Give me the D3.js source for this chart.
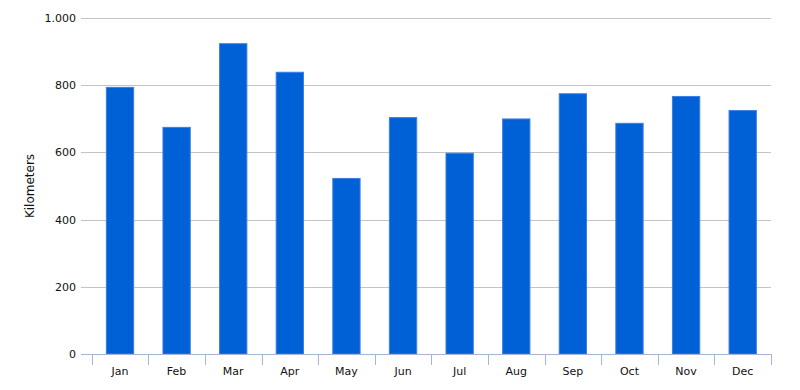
<!DOCTYPE html>
<html>
<head>
<meta charset="utf-8">
<script src="https://cdn.jsdelivr.net/npm/d3@7"></script>
<style>
  body { margin: 0; background: #fff; }
  text { font-family: "DejaVu Sans", Verdana, sans-serif; fill: #111; }
</style>
</head>
<body>
<svg id="chart" width="800" height="390"></svg>
<script>
// distancia mensal (km)
const months = ['Jan', 'Feb', 'Mar', 'Apr', 'May', 'Jun', 'Jul', 'Aug', 'Sep', 'Oct', 'Nov', 'Dec'];
const km = [795, 676, 925, 840, 524, 705, 599, 701, 776, 688, 768, 726];
const yTicks = [0, 200, 400, 600, 800, 1000];

const svg = d3.select('#chart');
const plotL = 81, plotR = 771, plotT = 18, plotB = 354;

const x = d3.scaleBand().domain(months).range([91.7, plotR]).paddingInner(0.5).paddingOuter(0.25);
const y = d3.scaleLinear().domain([0, 1000]).range([plotB, plotT]);

// grade horizontal
svg.append('g').selectAll('line').data(yTicks).join('line')
  .attr('x1', plotL).attr('x2', plotR)
  .attr('y1', (d) => Math.round(y(d)) + 0.5).attr('y2', (d) => Math.round(y(d)) + 0.5)
  .attr('stroke', '#c4c4c4').attr('stroke-width', 1);

svg.append('g').selectAll('text').data(yTicks).join('text')
  .attr('x', 76).attr('y', (d) => y(d) + 4)
  .attr('text-anchor', 'end').attr('font-size', 11)
  .text((d) => d3.format(',')(d).replace(/,/g, '.'));

// barras
svg.append('g').selectAll('rect').data(months).join('rect')
  .attr('x', (d) => x(d) + 0.5)
  .attr('y', (d, i) => y(km[i]) + 0.5)
  .attr('width', x.bandwidth() - 1)
  .attr('height', (d, i) => plotB - y(km[i]) - 0.5)
  .attr('fill', '#0060d6')
  .attr('stroke', '#3b7fe2').attr('stroke-width', 1);

// eixo x: linha + ticks nas divisas das categorias
const ax = svg.append('g');
ax.append('line').attr('x1', plotL).attr('x2', plotR)
  .attr('y1', plotB + 0.5).attr('y2', plotB + 0.5)
  .attr('stroke', '#a9b3d6');
const step = x.step();
const bounds = d3.range(months.length + 1).map((i) => x.range()[0] + i * step);
ax.selectAll('line.tick').data(bounds).join('line').attr('class', 'tick')
  .attr('x1', (d) => Math.round(d) + 0.5).attr('x2', (d) => Math.round(d) + 0.5)
  .attr('y1', plotB).attr('y2', plotB + 11)
  .attr('stroke', '#a9b3d6');
ax.selectAll('text').data(months).join('text')
  .attr('x', (d) => x(d) + x.bandwidth() / 2).attr('y', 375)
  .attr('text-anchor', 'middle').attr('font-size', 11)
  .text((d) => d);

svg.append('text')
  .attr('transform', `translate(34,${(plotT + plotB) / 2}) rotate(-90)`)
  .attr('text-anchor', 'middle').attr('font-size', 12)
  .text('Kilometers');
</script>
</body>
</html>
